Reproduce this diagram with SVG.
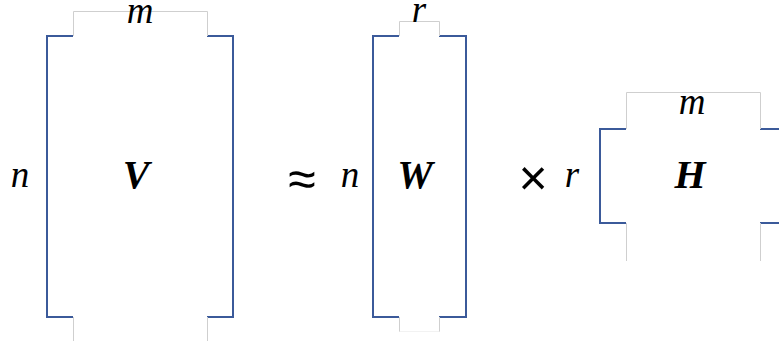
<svg xmlns="http://www.w3.org/2000/svg" width="779" height="345" viewBox="0 0 779 345">
<style>
.br{fill:none;stroke:#3B5A9A;stroke-width:2}
.gap{fill:#fff;stroke:none}
.gl{fill:none;stroke:#CFCFCF;stroke-width:1}
.var{font-family:"Liberation Serif","DejaVu Serif",serif;font-style:italic;font-size:37px;fill:#000}
.mat{font-family:"Liberation Serif","DejaVu Serif",serif;font-style:italic;font-weight:bold;font-size:40px;fill:#000}
.op{font-family:"Liberation Sans","DejaVu Sans",sans-serif;font-size:50px;fill:#000}
</style>
<rect width="779" height="345" fill="#fff"/>
<g id="matrix-V">
<rect class="br" x="47" y="36" width="186" height="281"/>
<rect class="gap" x="73" y="11" width="134" height="331"/>
<path class="gl" d="M73.5 36V11.5H207.5V36M73.5 317V341M207.5 317V341"/>
<text class="var" x="140" y="23" text-anchor="middle">m</text>
<text class="var" x="20" y="187" text-anchor="middle">n</text>
<text class="mat" x="136" y="188" text-anchor="middle">V</text>
</g>
<g id="approx">
<text class="op" x="302" y="196" text-anchor="middle">≈</text>
</g>
<g id="matrix-W">
<rect class="br" x="373" y="36" width="93" height="281"/>
<rect class="gap" x="399" y="21" width="40" height="311"/>
<path class="gl" d="M399.5 36V21.5H439.5V36M399.5 317V332M439.5 317V332"/>
<path d="M399.5 331.5H439.5" fill="none" stroke="#F2F2F2" stroke-width="1"/>
<text class="var" x="419" y="22" text-anchor="middle">r</text>
<text class="var" x="350" y="187" text-anchor="middle">n</text>
<text class="mat" x="415" y="188" text-anchor="middle">W</text>
</g>
<g id="times">
<text class="op" x="533" y="195" text-anchor="middle">×</text>
</g>
<g id="matrix-H">
<rect class="br" x="600" y="129" width="186" height="94"/>
<rect class="gap" x="626" y="92" width="134" height="169"/>
<path class="gl" d="M626.5 129V92.5H760.5V129M626.5 223V261M760.5 223V261"/>
<text class="var" x="692" y="114" text-anchor="middle">m</text>
<text class="var" x="572" y="187" text-anchor="middle">r</text>
<text class="mat" x="690" y="188" text-anchor="middle">H</text>
</g>
</svg>
